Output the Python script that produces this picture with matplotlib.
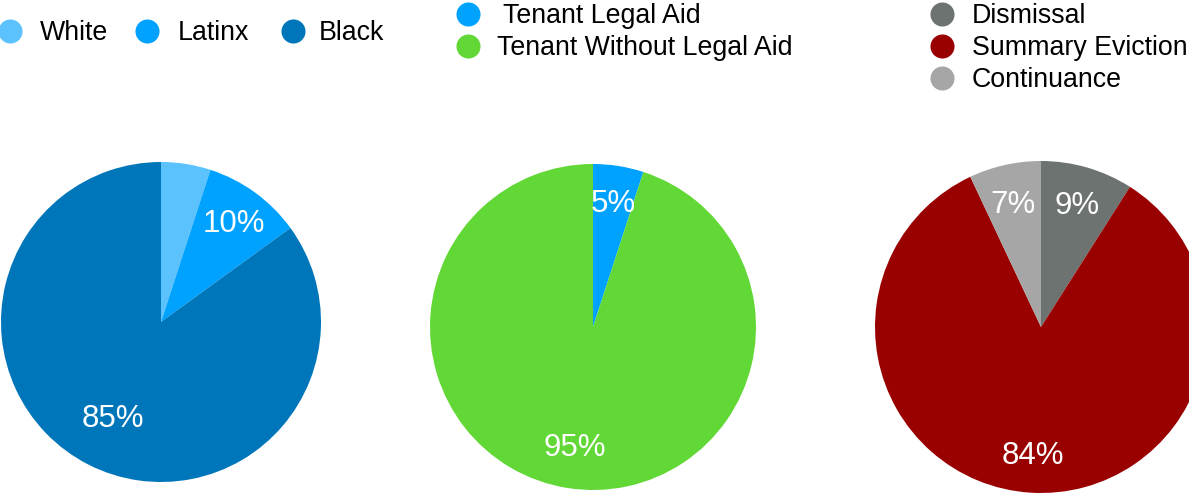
import matplotlib
matplotlib.use("Agg")
import matplotlib.pyplot as plt
import numpy as np

plt.rcParams['font.family'] = ['Liberation Sans', 'DejaVu Sans']

# race of tenants
race_labels = ['White', 'Latinx', 'Black']
race_values = [5, 10, 85]
race_colors = ['#5bc2fd', '#00a2ff', '#0076ba']
race_shown = [False, True, True]  # the white slice has no label in the original

# legal representation
aid_labels = ['Tenant Legal Aid', 'Tenant Without Legal Aid']
aid_values = [5, 95]
aid_colors = ['#00a2ff', '#61d836']
aid_shown = [True, True]

# case outcomes
outcome_labels = ['Dismissal', 'Summary Eviction', 'Continuance']
outcome_values = [9, 84, 7]
outcome_colors = ['#6d7370', '#990000', '#a6a6a6']
outcome_shown = [True, True, True]

W, H = 1189, 494
fig = plt.figure(figsize=(W / 100, H / 100), dpi=100)
ax = fig.add_axes([0, 0, 1, 1])


def draw_pie(values, colors, shown, cx, cy, r, pct_dist):
    wedges, _ = ax.pie(values, colors=colors, center=(cx, H - cy), radius=r,
                       startangle=90, counterclock=False,
                       wedgeprops=dict(linewidth=0))
    for w, v, show, d in zip(wedges, values, shown, pct_dist):
        if not show:
            continue
        ang = np.deg2rad((w.theta1 + w.theta2) / 2)
        x = cx + d * r * np.cos(ang)
        y = H - cy + d * r * np.sin(ang) - 3
        ax.text(x, y, f"{v}%", color='white', fontsize=22.5,
                ha='center', va='center')


def draw_legend(labels, colors, xs, ys, text_xs):
    for lab, c, x, y, tx in zip(labels, colors, xs, ys, text_xs):
        ax.scatter([x], [H - y], s=300, color=c, linewidths=0, clip_on=False)
        ax.text(tx, H - y - 2, lab, fontsize=19.3, ha='left', va='center')


draw_pie(race_values, race_colors, race_shown, 161, 322, 160, [0.78, 0.78, 0.66])
draw_pie(aid_values, aid_colors, aid_shown, 593, 327, 163, [0.78, 0.73])
draw_pie(outcome_values, outcome_colors, outcome_shown, 1041, 327, 166,
         [0.78, 0.76, 0.77])

draw_legend(race_labels, race_colors, [10, 147, 293], [31, 31, 31], [40, 178, 319])
draw_legend(aid_labels, aid_colors, [468, 468], [14, 46], [503, 497])
draw_legend(outcome_labels, outcome_colors, [942, 942, 942], [14, 46, 78],
            [972, 972, 972])

# pie() resets the view, so fix the pixel frame afterwards
ax.set_xlim(0, W)
ax.set_ylim(0, H)
ax.set_aspect('equal')
ax.axis('off')

fig.savefig('out.png', dpi=100)
